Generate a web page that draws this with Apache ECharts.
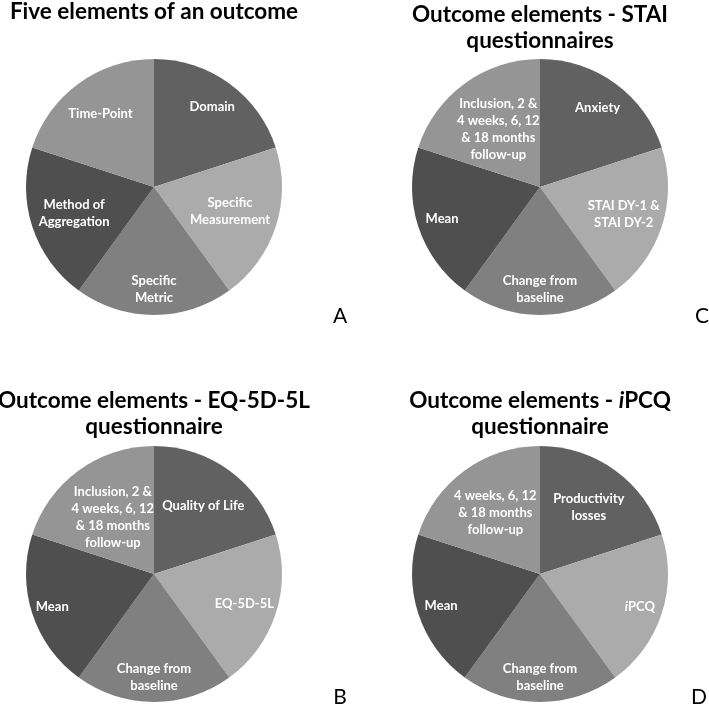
<!DOCTYPE html>
<html>
<head>
<meta charset="utf-8">
<script src="https://cdn.jsdelivr.net/npm/echarts@6/dist/echarts.min.js"></script>
<style>
html,body{margin:0;padding:0;background:#fff;}
#c{width:709px;height:705px;}
</style>
</head>
<body>
<div id="c"></div>
<script>
// ---- data ----
const titleA = 'Five elements of an outcome';
const titleC = 'Outcome elements - STAI\nquestionnaires';
const titleB = 'Outcome elements - EQ-5D-5L\nquestionnaire';
const titleD = 'Outcome elements - {it|i}PCQ\nquestionnaire';
const panelLetters = ['A', 'C', 'B', 'D'];

const catsA = ['Domain', 'Specific\nMeasurement', 'Specific\nMetric', 'Method of\nAggregation', 'Time-Point'];
const catsC = ['Anxiety', 'STAI DY-1 &\nSTAI DY-2', 'Change from\nbaseline', 'Mean', 'Inclusion, 2 &\n4 weeks, 6, 12\n& 18 months\nfollow-up'];
const catsB = ['Quality of Life', 'EQ-5D-5L', 'Change from\nbaseline', 'Mean', 'Inclusion, 2 &\n4 weeks, 6, 12\n& 18 months\nfollow-up'];
const catsD = ['Productivity\nlosses', 'iPCQ', 'Change from\nbaseline', 'Mean', '4 weeks, 6, 12\n& 18 months\nfollow-up'];

const valuesA = [1, 1, 1, 1, 1];
const valuesC = [1, 1, 1, 1, 1];
const valuesB = [1, 1, 1, 1, 1];
const valuesD = [1, 1, 1, 1, 1];

// ---- styles ----
const sliceColors = ['#616161', '#ababab', '#808080', '#4f4f4f', '#959595'];
const FONT = 'Lato';
const R = 128;

// label distance from centre for each slice (layout only)
const panels = [
  { title: titleA, cats: catsA, vals: valuesA, center: [154, 187], titleY: -1, letterPos: [340, 316], labelDist: [99, 80, 102, 84, 91] },
  { title: titleC, cats: catsC, vals: valuesC, center: [540, 187], titleY: 2, letterPos: [702, 316], labelDist: [98, 88, 102, 103, 71] },
  { title: titleB, cats: catsB, vals: valuesB, center: [154, 574], titleY: 388, letterPos: [340, 697], labelDist: [84, 95, 103, 107, 70] },
  { title: titleD, cats: catsD, vals: valuesD, center: [540, 574], titleY: 388, letterPos: [699, 697], labelDist: [83, 105, 103, 104, 76] }
];

const graphics = [];
const series = [];
const labelStyle = {
  show: true, position: 'inside', color: '#fff', overflow: 'none',
  fontFamily: FONT, fontWeight: 'bold', fontSize: 13, lineHeight: 17,
  formatter: (prm) => prm.name === 'iPCQ' ? '{it|i}PCQ' : prm.name,
  rich: { it: { fontFamily: FONT, fontWeight: 'bold', fontStyle: 'italic', fontSize: 13, color: '#fff', lineHeight: 17 } }
};

panels.forEach((p, i) => {
  graphics.push({
    type: 'text', x: p.center[0], y: p.titleY, silent: true,
    style: {
      text: p.title, align: 'center', verticalAlign: 'top',
      font: 'bold 22.5px ' + FONT, fill: '#000', lineHeight: 26,
      rich: { it: { fontFamily: FONT, fontWeight: 'bold', fontStyle: 'italic', fontSize: 22.5, fill: '#000', lineHeight: 26 } }
    }
  });
  graphics.push({
    type: 'text', x: p.letterPos[0], y: p.letterPos[1], silent: true,
    style: { text: panelLetters[i], align: 'center', verticalAlign: 'middle', font: '21px ' + FONT, fill: '#000' }
  });
  series.push({
    type: 'pie', center: p.center, radius: [0, R], startAngle: 90, clockwise: true,
    silent: true, animation: false,
    label: { show: false }, labelLine: { show: false },
    data: p.cats.map((c, k) => ({ name: c, value: p.vals[k], itemStyle: { color: sliceColors[k] } }))
  });
  // one transparent ring per slice label, so each label sits at its own distance
  p.cats.forEach((c0, j) => {
    const inner = Math.max(0, 2 * (p.labelDist[j] - 3) - R);
    series.push({
      type: 'pie', center: p.center, radius: [inner, R], startAngle: 90, clockwise: true,
      silent: true, animation: false,
      labelLine: { show: false },
      label: labelStyle,
      data: p.cats.map((c, k) => ({
        name: c, value: p.vals[k], itemStyle: { color: 'rgba(0,0,0,0)', borderWidth: 0 },
        label: { show: k === j }
      }))
    });
  });
});

const chart = echarts.init(document.getElementById('c'), null, { renderer: 'canvas' });
chart.setOption({
  backgroundColor: '#fff',
  animation: false,
  graphic: graphics,
  series: series
});
</script>
</body>
</html>
